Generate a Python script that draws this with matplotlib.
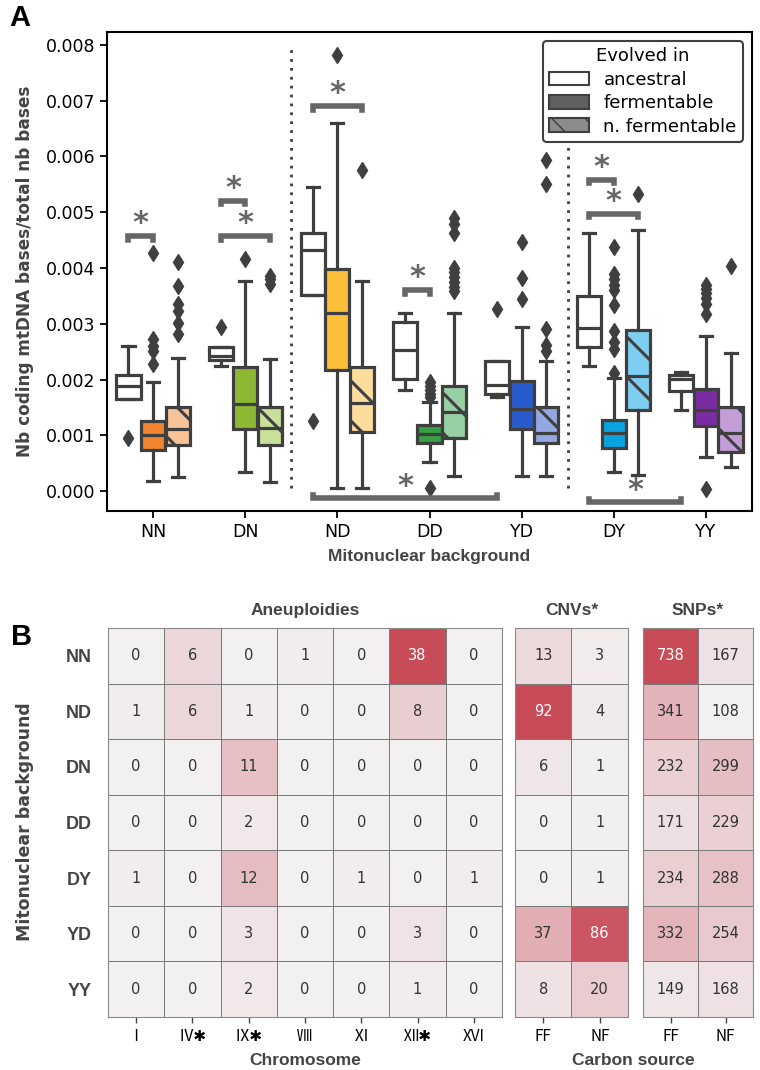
import numpy as np
import matplotlib.pyplot as plt
from matplotlib.colors import LinearSegmentedColormap
from matplotlib.patches import Patch

# ---- panel A data (box stats, x 1e-3) ----
groups = ['NN', 'DN', 'ND', 'DD', 'YD', 'DY', 'YY']
hues = ['ancestral', 'fermentable', 'n. fermentable']

whislo = [[1.65, 0.18, 0.25], [2.25, 0.35, 0.17], [3.52, 0.06, 0.06], [1.81, 0.53, 0.28],
          [1.69, 0.28, 0.27], [2.25, 0.34, 0.29], [1.45, 0.62, 0.43]]
q1 = [[1.65, 0.74, 0.82], [2.35, 1.11, 0.82], [3.52, 2.17, 1.06], [2.01, 0.87, 0.95],
      [1.75, 1.11, 0.86], [2.59, 0.77, 1.45], [1.79, 1.16, 0.71]]
med = [[1.89, 1.00, 1.12], [2.43, 1.57, 1.14], [4.33, 3.20, 1.58], [2.53, 1.03, 1.42],
       [1.90, 1.48, 1.05], [2.92, 1.05, 2.07], [2.01, 1.45, 1.04]]
q3 = [[2.09, 1.26, 1.50], [2.58, 2.22, 1.50], [4.62, 3.99, 2.23], [3.03, 1.19, 1.88],
      [2.33, 1.98, 1.51], [3.50, 1.28, 2.89], [2.09, 1.84, 1.51]]
whishi = [[2.60, 1.95, 2.38], [2.58, 3.76, 2.37], [5.46, 6.60, 3.76], [3.20, 1.60, 3.19],
          [2.33, 2.95, 2.34], [4.62, 2.02, 4.68], [2.13, 2.78, 2.47]]
fliers = [
    [[0.95], [2.28, 2.52, 2.61, 2.73, 4.27], [2.81, 3.02, 3.23, 3.35, 3.68, 4.10]],
    [[2.95], [4.17], [3.72, 3.80, 3.86]],
    [[1.25], [7.82], [5.76]],
    [[], [0.05, 1.69, 1.75, 1.82, 1.88, 1.95], [3.58, 3.66, 3.75, 3.83, 3.92, 4.00, 4.63, 4.78, 4.90]],
    [[3.27], [3.45, 3.82, 4.47], [2.52, 2.62, 2.90, 5.50, 5.93]],
    [[], [2.12, 2.55, 2.68, 2.87, 3.33, 3.60, 3.70, 3.80, 3.90, 4.37], [5.33]],
    [[], [0.04, 3.17, 3.35, 3.47, 3.55, 3.63, 3.70], [4.03]],
]
ferm_colors = ['#F2852F', '#8DB833', '#FBBF3A', '#37A043', '#2A5BCC', '#0AA3E2', '#7A2DA2']
nferm_colors = ['#F9C399', '#C8E09A', '#FDDC9C', '#98D0A6', '#93A8E2', '#7ECEF1', '#C29DD8']

# significance brackets: (group, hue, group, hue, height x1e-3)
sig_top = [(0, 0, 0, 1, 4.57), (1, 0, 1, 1, 5.20), (1, 0, 1, 2, 4.57), (2, 0, 2, 2, 6.90),
           (3, 0, 3, 1, 3.60), (5, 0, 5, 1, 5.58), (5, 0, 5, 2, 4.97)]
sig_bottom = [(2, 0, 4, 0, -0.13), (5, 0, 6, 0, -0.20)]

# ---- panel B data ----
rows = ['NN', 'ND', 'DN', 'DD', 'DY', 'YD', 'YY']
chromosomes = ['Ⅰ', 'Ⅳ✱', 'Ⅸ✱', 'Ⅷ', 'Ⅺ', 'Ⅻ✱', 'XVI']
carbon = ['FF', 'NF']
aneuploidies = np.array([[0, 6, 0, 1, 0, 38, 0],
                         [1, 6, 1, 0, 0, 8, 0],
                         [0, 0, 11, 0, 0, 0, 0],
                         [0, 0, 2, 0, 0, 0, 0],
                         [1, 0, 12, 0, 1, 0, 1],
                         [0, 0, 3, 0, 0, 3, 0],
                         [0, 0, 2, 0, 0, 1, 0]])
cnvs = np.array([[13, 3], [92, 4], [6, 1], [0, 1], [0, 1], [37, 86], [8, 20]])
snps = np.array([[738, 167], [341, 108], [232, 299], [171, 229], [234, 288], [332, 254], [149, 168]])

dark = '#3f3f3f'
label_gray = '#444444'
bold_font = 'Liberation Sans'

fig = plt.figure(figsize=(7.6, 10.7), dpi=100)

# ================= Panel A =================
ax = fig.add_axes([0.1408, 0.5224, 0.8487, 0.4477])
offsets = [-0.267, 0.0, 0.267]
bw = 0.262

stats, positions, faces = [], [], []
for gi in range(len(groups)):
    for hi in range(3):
        stats.append(dict(whislo=whislo[gi][hi] * 1e-3, q1=q1[gi][hi] * 1e-3, med=med[gi][hi] * 1e-3,
                          q3=q3[gi][hi] * 1e-3, whishi=whishi[gi][hi] * 1e-3,
                          fliers=np.array(fliers[gi][hi]) * 1e-3))
        positions.append(gi + offsets[hi])
        faces.append(['white', ferm_colors[gi], nferm_colors[gi]][hi])

line_kw = dict(color=dark, linewidth=2.3)
bp = ax.bxp(stats, positions=positions, widths=bw, patch_artist=True,
            boxprops=dict(edgecolor=dark, linewidth=2.3),
            medianprops=line_kw, whiskerprops=line_kw, capprops=line_kw,
            flierprops=dict(marker='d', markerfacecolor=dark, markeredgecolor=dark, markersize=8),
            manage_ticks=False, zorder=3)
for patch, fc in zip(bp['boxes'], faces):
    patch.set_facecolor(fc)

ax.set_xlim(-0.5, 6.5)
ax.set_ylim(-0.000356, 0.00823)
ax.set_xticks(range(len(groups)))
ax.set_xticklabels(groups)
ax.set_yticks(np.arange(0, 0.0081, 0.001))
ax.set_yticklabels([f'{v:.3f}' for v in np.arange(0, 0.0081, 0.001)])
ax.tick_params(labelsize=12.5, length=5, width=1.3)
for s in ax.spines.values():
    s.set_linewidth(1.5)
ax.set_xlabel('Mitonuclear background', fontsize=12.5, fontweight='bold', color=label_gray,
              family=bold_font, labelpad=6)
ax.set_ylabel('Nb coding mtDNA bases/total nb bases', fontsize=12.2, fontweight='bold',
              color=label_gray, labelpad=8)

# dotted separators
for xs in [1.5, 4.5]:
    ax.plot([xs, xs], [0.00005, 0.0080], linestyle=(0, (1, 2.2)), color=dark, linewidth=2, zorder=2)

# single diagonal hatch lines on the n. fermentable boxes (45 deg, ~40 px apart)
spacing = 40
for k, patch in enumerate(bp['boxes']):
    if k % 3 != 2:
        continue
    st = stats[k]
    x = positions[k]
    (x0, y0), (x1, y1) = ax.transData.transform([(x - bw / 2, st['q1']), (x + bw / 2, st['q3'])])
    cmin = int(np.floor((x0 + y0) / spacing)) * spacing
    cmax = int(np.ceil((x1 + y1) / spacing)) * spacing
    for c in range(cmin, cmax + spacing, spacing):
        pts = ax.transData.inverted().transform([(x0 - 5, c - x0 + 5), (x1 + 5, c - x1 - 5)])
        ln, = ax.plot(pts[:, 0], pts[:, 1], color=dark, linewidth=2.2, zorder=3.5,
                      solid_capstyle='butt')
        ln.set_clip_path(patch)

# significance brackets
sig_color = '#666666'
tick_h = 0.00006
for g1, h1, g2, h2, y in sig_top:
    xa, xb, yv = g1 + offsets[h1], g2 + offsets[h2], y * 1e-3
    ax.plot([xa, xa, xb, xb], [yv - tick_h, yv, yv, yv - tick_h], color=sig_color, linewidth=4,
            solid_joinstyle='miter', zorder=4)
    ax.text((xa + xb) / 2, yv - 0.00003, '*', ha='center', va='bottom', fontsize=22,
            fontweight='bold', color=sig_color)
for g1, h1, g2, h2, y in sig_bottom:
    xa, xb, yv = g1 + offsets[h1], g2 + offsets[h2], y * 1e-3
    ax.plot([xa, xa, xb, xb], [yv + tick_h, yv, yv, yv + tick_h], color=sig_color, linewidth=4,
            solid_joinstyle='miter', zorder=4)
    ax.text((xa + xb) / 2, yv - 0.00004, '*', ha='center', va='bottom', fontsize=22,
            fontweight='bold', color=sig_color)

handles = [Patch(facecolor='white', edgecolor=dark, linewidth=1.5),
           Patch(facecolor='#606060', edgecolor=dark, linewidth=1.5),
           Patch(facecolor='#8c8c8c', edgecolor=dark, linewidth=1.5, hatch='\\')]
leg = ax.legend(handles, hues, title='Evolved in', loc='upper right', fontsize=13,
                title_fontsize=13, frameon=True, framealpha=1, handlelength=2.2, handleheight=0.8,
                borderaxespad=0.5, labelspacing=0.3, borderpad=0.35)
leg.get_frame().set_edgecolor(dark)
leg.get_frame().set_linewidth(1.5)
leg.set_zorder(10)

fig.text(0.026, 0.983, 'A', fontsize=21, fontweight='bold', family=bold_font, ha='center', va='center')

# ================= Panel B =================
cmap = LinearSegmentedColormap.from_list('gr', ['#f2f0f1', '#c84b58'])
bottom, height = 0.0495, 0.3636
ax_an = fig.add_axes([0.1421, bottom, 0.5184, height])
ax_cn = fig.add_axes([0.6776, bottom, 0.1487, height])
ax_sn = fig.add_axes([0.8461, bottom, 0.1447, height])

panels = [(ax_an, aneuploidies, chromosomes, 'Aneuploidies'),
          (ax_cn, cnvs, carbon, 'CNVs*'),
          (ax_sn, snps, carbon, 'SNPs*')]
for axh, data, xlabels, title in panels:
    vmin, vmax = data.min(), data.max()
    axh.pcolormesh(data, cmap=cmap, vmin=vmin, vmax=vmax, edgecolors='#7a7a7a', linewidth=0.5)
    axh.set_xlim(0, data.shape[1])
    axh.set_ylim(data.shape[0], 0)
    for i in range(data.shape[0]):
        for j in range(data.shape[1]):
            frac = (data[i, j] - vmin) / (vmax - vmin)
            axh.text(j + 0.5, i + 0.5, str(data[i, j]), ha='center', va='center', fontsize=10.5,
                     color='white' if frac > 0.6 else '#333333')
    axh.set_xticks(np.arange(data.shape[1]) + 0.5)
    axh.set_xticklabels(xlabels, fontsize=11, family=['Noto Sans CJK JP', 'DejaVu Sans'])
    axh.tick_params(axis='x', length=4, width=1, color='#444444', pad=4)
    axh.set_yticks([])
    for s in axh.spines.values():
        s.set_color('#8a8a8a')
        s.set_linewidth(0.8)
    axh.set_title(title, fontsize=12.5, fontweight='bold', family=bold_font, color=label_gray, pad=9)

ax_an.set_yticks(np.arange(len(rows)) + 0.5)
ax_an.set_yticklabels(rows, fontsize=13, fontweight='bold', family=bold_font, color=label_gray)
ax_an.tick_params(axis='y', length=0, pad=12)

fig.text(0.1421 + 0.5184 / 2, 0.009, 'Chromosome', fontsize=12.5, fontweight='bold', family=bold_font,
         color=label_gray, ha='center', va='center')
fig.text(0.833, 0.009, 'Carbon source', fontsize=12.5, fontweight='bold', family=bold_font,
         color=label_gray, ha='center', va='center')
fig.text(0.033, 0.232, 'Mitonuclear background', fontsize=12.5, fontweight='bold', rotation=90,
         color=label_gray, ha='center', va='center')
fig.text(0.029, 0.405, 'B', fontsize=21, fontweight='bold', family=bold_font, ha='center', va='center')

fig.savefig('out.png', dpi=100)
